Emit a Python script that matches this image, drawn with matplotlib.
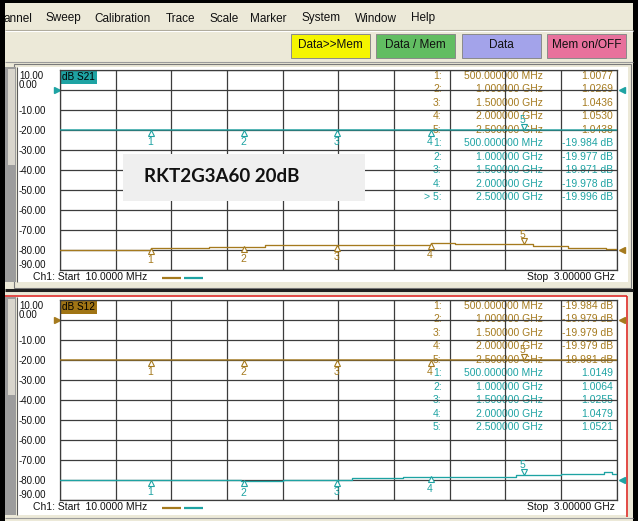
import numpy as np
import matplotlib
matplotlib.use("Agg")
import matplotlib.pyplot as plt
import matplotlib.transforms as mtrans
from matplotlib.patches import Rectangle

plt.rcParams['font.family'] = ['Liberation Sans', 'DejaVu Sans']

# ---------------- data ----------------
menu_items = ["annel", "Sweep", "Calibration", "Trace", "Scale", "Marker", "System", "Window", "Help"]
button_labels = ["Data>>Mem", "Data / Mem", "Data", "Mem on/OFF"]
button_colors = ["#f5f500", "#62bd62", "#a3a3ea", "#e8719c"]

y_ticks = [10, 0, -10, -20, -30, -40, -50, -60, -70, -80, -90]
y_tick_labels = ["10.00", "0.00", "-10.00", "-20.00", "-30.00", "-40.00",
                 "-50.00", "-60.00", "-70.00", "-80.00", "-90.00"]
start_ghz, stop_ghz = 0.01, 3.0
start_label = "Ch1: Start  10.0000 MHz"
stop_label = "Stop  3.00000 GHz"

marker_ids = ["1", "2", "3", "4", "5"]
marker_freqs = [0.5, 1.0, 1.5, 2.0, 2.5]
marker_freq_labels = ["500.000000 MHz", "1.000000 GHz", "1.500000 GHz",
                      "2.000000 GHz", "2.500000 GHz"]

# top panel: S21 (dB, teal) and SWR trace (brown, shown near -80)
top_db_f = [0.01, 0.5, 1.0, 1.5, 2.0, 2.5, 3.0]
top_db_v = [-19.98, -19.984, -19.977, -19.971, -19.978, -19.996, -19.99]
top_db_readout = ["-19.984 dB", "-19.977 dB", "-19.971 dB", "-19.978 dB", "-19.996 dB"]
top_swr_f = [0.01, 0.50, 0.81, 1.11, 2.00, 2.13, 2.55, 2.74, 2.94, 3.0]
top_swr_v = [-80.0, -79.2, -78.3, -77.7, -76.7, -77.2, -78.0, -78.8, -79.7, -79.7]
top_swr_readout = ["1.0077", "1.0269", "1.0436", "1.0530", "1.0438"]

# bottom panel: S12 (dB, brown) and SWR trace (teal, shown near -80)
bot_db_f = [0.01, 0.5, 1.0, 1.5, 2.0, 2.5, 3.0]
bot_db_v = [-19.98, -19.984, -19.979, -19.979, -19.979, -19.981, -19.98]
bot_db_readout = ["-19.984 dB", "-19.979 dB", "-19.979 dB", "-19.979 dB", "-19.981 dB"]
bot_swr_f = [0.01, 0.98, 1.21, 1.58, 1.85, 2.46, 2.70, 2.93, 2.975, 3.0]
bot_swr_v = [-80.0, -80.3, -80.0, -79.0, -78.3, -77.5, -76.8, -76.0, -76.8, -76.8]
bot_swr_readout = ["1.0149", "1.0064", "1.0255", "1.0479", "1.0521"]

ref_db_level = 0
ref_swr_level = -80

TEAL = "#1ea3a3"
BROWN = "#a57a1e"
GRID = "#3c3c3c"
BEIGE = "#ece9d8"

# ---------------- figure ----------------
W, H = 638, 521
fig = plt.figure(figsize=(W / 100, H / 100), dpi=100)
fig.patch.set_facecolor(BEIGE)
bg = fig.add_axes([0, 0, 1, 1])
bg.set_xlim(0, W)
bg.set_ylim(H, 0)
bg.axis('off')
bg.set_zorder(0)


def R(x0, y0, x1, y1, **kw):
    kw.setdefault('ec', 'none')
    bg.add_patch(Rectangle((x0, y0), x1 - x0, y1 - y0, **kw))


def L(xs, ys, **kw):
    bg.plot(xs, ys, solid_capstyle='butt', **kw)


# window frame
R(0, 0, W, 3, fc='black')
R(0, 0, 5, H, fc='black')
R(633, 0, W, H, fc='black')

# menu
menu_x = [3, 45, 94, 166, 209, 250, 302, 355, 411]
for name, x in zip(menu_items, menu_x):
    bg.text(x, 18.5, name, fontsize=8.5, ha='left', va='center', color='#111111')
L([5, 633], [30, 30], color='#aca899', lw=0.8)
L([5, 633], [31, 31], color='white', lw=0.8)

# buttons
btn_x = [(291, 370), (376, 455), (462, 541), (547, 626)]
for (x0, x1), lab, c in zip(btn_x, button_labels, button_colors):
    R(x0, 33.5, x1, 57.5, fc=c, ec='#8a8a8a', lw=0.7)
    bg.text((x0 + x1) / 2, 45.5, lab, fontsize=8.5, ha='center', va='center', color='#111111')
L([5, 633], [61.5, 61.5], color='#9a9a9a', lw=0.8)

# panel frames
R(14, 64, 631, 287.5, fc='none', ec='#7a7a7a', lw=0.8)
R(17, 67, 627.5, 282, fc='white')
R(5, 67, 16, 282, fc='#9c9c9c')
R(8, 69, 15, 165, fc='#d8d5cc')
L([16.5, 16.5], [67, 282], color='#5a5a5a', lw=0.8)
L([5, 633], [289.5, 289.5], color='#202020', lw=2.2)
R(17, 297, 626, 515, fc='white')
R(5, 297, 16, 515, fc='#9c9c9c')
R(8, 299, 15, 395, fc='#d8d5cc')
L([16.5, 16.5], [297, 515], color='#5a5a5a', lw=0.8)
L([5, 627], [295.8, 295.8], color='#e02020', lw=1.1)
L([626.5, 626.5], [295.8, 517], color='#e02020', lw=1.1)
L([5, 633], [517.5, 517.5], color='#9a9a9a', lw=0.8)

GX0, GX1 = 60, 616.7
table_rows_dy = 13.45


def step_value(fs, vs, f):
    i = np.searchsorted(fs, f, side='right') - 1
    return vs[i]


def panel(top, title, title_color, db_color, swr_color,
          db_f, db_v, swr_f, swr_v, brown_rows, teal_rows, teal_active):
    ax = fig.add_axes([GX0 / W, 1 - (top + 200) / H, (GX1 - GX0) / W, 200 / H])
    ax.set_zorder(1)
    ax.patch.set_alpha(0)
    ax.set_xlim(start_ghz, stop_ghz)
    ax.set_ylim(-90, 10)
    ax.set_xticks(np.linspace(start_ghz, stop_ghz, 11))
    ax.set_yticks(y_ticks)
    ax.grid(True, color=GRID, lw=0.9)
    ax.tick_params(length=0, labelbottom=False, labelleft=False)
    for s in ax.spines.values():
        s.set_color(GRID)
        s.set_linewidth(0.9)

    # y labels
    ytr = mtrans.blended_transform_factory(bg.transData, ax.transData)
    for v, lab in zip(y_ticks, y_tick_labels):
        dy = -0.5
        if v == 10:
            dy = -6
        elif v == 0 or v == -90:
            dy = 4.5
        bg.text(19, v, lab, fontsize=7, ha='left', va='center', color='#111111',
                transform=mtrans.offset_copy(ytr, fig=fig, x=0, y=dy, units='dots'))

    # title tag
    bg.text(62, top + 6.8, title, fontsize=7.2, ha='left', va='center', color='black',
            bbox=dict(boxstyle='square,pad=0.18', fc=title_color, ec='none'))

    # marker table (under grid)
    fx = [441.7, 543.3, 613.3]
    rows = [(brown_rows, BROWN, None), (teal_rows, TEAL, teal_active)]
    k = 0
    for vals, col, active in rows:
        for i in range(5):
            y = top + 6 + k * table_rows_dy
            idlab = marker_ids[i] + ":"
            if active is not None and i == active:
                idlab = "> " + idlab
            bg.text(fx[0], y, idlab, fontsize=7.5, ha='right', va='center', color=col)
            bg.text(fx[1], y, marker_freq_labels[i], fontsize=7.5, ha='right', va='center', color=col)
            bg.text(fx[2], y, vals[i], fontsize=7.5, ha='right', va='center', color=col)
            k += 1

    # traces
    ax.plot(db_f, db_v, color=db_color, lw=0.95, zorder=3)
    ax.plot(swr_f, swr_v, color=swr_color, lw=0.95, drawstyle='steps-post', zorder=3)

    # markers
    for fs, vs, col, step in [(db_f, db_v, db_color, False), (swr_f, swr_v, swr_color, True)]:
        for i, f in enumerate(marker_freqs):
            v = step_value(fs, vs, f) if step else np.interp(f, fs, vs)
            if i < 4:
                mk, mdy, ldy = '^', -2.6, -12
            else:
                mk, mdy, ldy = 'v', 3.2, 9.5
            ax.plot([f], [v], marker=mk, ms=4.2, mfc='white', mec=col, mew=0.8,
                    transform=mtrans.offset_copy(ax.transData, fig=fig, x=0, y=mdy, units='dots'),
                    zorder=4, clip_on=False)
            ax.text(f, v, marker_ids[i], fontsize=7.5, ha='center', va='center', color=col,
                    transform=mtrans.offset_copy(ax.transData, fig=fig, x=-1, y=ldy, units='dots'),
                    zorder=4)

    # reference arrows
    ax.plot([57], [ref_db_level], marker='>', ms=4.5, color=db_color, transform=ytr, clip_on=False)
    ax.plot([621.5], [ref_db_level], marker='<', ms=4.5, color=db_color, transform=ytr, clip_on=False)
    ax.plot([621.5], [ref_swr_level], marker='<', ms=4.5, color=swr_color, transform=ytr, clip_on=False)

    # footer
    yb = top + 207.5
    bg.text(33, yb, start_label, fontsize=7.5, ha='left', va='center', color='#111111')
    bg.text(615, yb, stop_label, fontsize=7.5, ha='right', va='center', color='#111111')
    L([162, 181], [yb, yb], color=BROWN, lw=1.6)
    L([184, 203], [yb, yb], color=TEAL, lw=1.6)
    return ax


ax_top = panel(70, "dB S21", TEAL, TEAL, BROWN, top_db_f, top_db_v, top_swr_f, top_swr_v,
               top_swr_readout, top_db_readout, 4)
ax_bot = panel(300, "dB S12", "#a07414", BROWN, TEAL, bot_db_f, bot_db_v, bot_swr_f, bot_swr_v,
               bot_db_readout, bot_swr_readout, None)

# annotation box
fig.patches.append(Rectangle((123 / W, 1 - 201 / H), (365 - 123) / W, 47 / H,
                             transform=fig.transFigure, fc='#efefef', ec='none', zorder=5))
fig.text(222 / W, 1 - 177 / H, "RKT2G3A60 20dB", fontsize=13.5, fontweight='bold',
         family=['Lato', 'DejaVu Sans'], ha='center', va='center', color='#111111', zorder=6)

fig.savefig("out.png", dpi=100, facecolor=fig.get_facecolor())
